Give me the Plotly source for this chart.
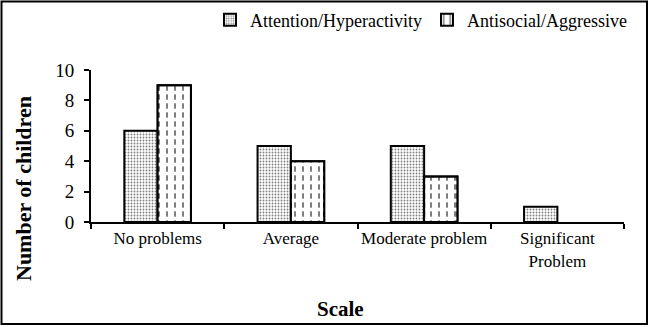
import plotly.graph_objects as go

# Category labels along the x axis and the counts for each scale
categories = ["No problems", "Average", "Moderate problem", "Significant<br>Problem"]
attention = [6, 5, 5, 1]
antisocial = [9, 4, 3, 0]
y_ticks = [0, 2, 4, 6, 8, 10]

FONT = "Liberation Serif"

# zero counts are left blank rather than drawn as a flat outline
def shown(values):
    return [v if v else None for v in values]

OUTLINE = dict(color="black", width=2)
BAR_W = 0.25

fig = go.Figure()
fig.add_trace(go.Bar(
    name="Attention/Hyperactivity",
    x=categories, y=shown(attention), offset=-BAR_W, width=BAR_W,
    marker=dict(color="white", line=OUTLINE,
                pattern=dict(shape=".", size=3, solidity=0.3,
                             fgcolor="black", bgcolor="white", fillmode="overlay")),
))
fig.add_trace(go.Bar(
    name="Antisocial/Aggressive",
    x=categories, y=shown(antisocial), offset=0, width=BAR_W,
    marker=dict(color="white", line=OUTLINE,
                pattern=dict(shape="|", size=8, solidity=0.25,
                             fgcolor="black", bgcolor="white", fillmode="overlay")),
))
# white horizontal stripes break the vertical lines into dashes
fig.add_trace(go.Bar(
    name="Antisocial/Aggressive", showlegend=False, hoverinfo="skip",
    x=categories, y=shown(antisocial), offset=0, width=BAR_W,
    marker=dict(color="rgba(0,0,0,0)", line=OUTLINE,
                pattern=dict(shape="-", size=9, solidity=0.4,
                             fgcolor="white", bgcolor="rgba(0,0,0,0)",
                             fgopacity=1, fillmode="overlay")),
))

L, R, T, B = 91, 26, 70, 105
W, H = 650, 327
pw, ph = W - L - R, H - T - B

def px_x(x):
    return (x - L) / pw

def px_y(y):
    return (H - B - y) / ph

fig.update_layout(
    width=W, height=H,
    margin=dict(l=L, r=R, t=T, b=B, autoexpand=False),
    paper_bgcolor="white", plot_bgcolor="white",
    barmode="overlay",
    font=dict(family=FONT, size=17, color="black"),
    showlegend=True,
    legend=dict(orientation="h", x=px_x(632), xanchor="right",
                y=px_y(20), yanchor="middle",
                font=dict(family=FONT, size=18, color="black"),
                itemwidth=30, bgcolor="rgba(0,0,0,0)", traceorder="normal"),
    xaxis=dict(type="category", showline=True, linecolor="black", linewidth=2,
               ticks="outside", tickson="boundaries", ticklen=5, tickwidth=2,
               tickcolor="black", showgrid=False, zeroline=False, tickangle=0,
               tickfont=dict(family=FONT, size=17, color="black")),
    yaxis=dict(range=[0, 10], tickvals=y_ticks, showline=True, linecolor="black",
               linewidth=2, ticks="outside", ticklen=5, tickwidth=2,
               tickcolor="black", showgrid=False, zeroline=False,
               ticklabelstandoff=6,
               tickfont=dict(family=FONT, size=19, color="black")),
    annotations=[
        dict(text="<b>Number of children</b>", textangle=-90, xref="paper", yref="paper",
             x=px_x(23), y=px_y(189), xanchor="center", yanchor="middle",
             showarrow=False, font=dict(family=FONT, size=22, color="black")),
        dict(text="<b>Scale</b>", xref="paper", yref="paper",
             x=px_x(340), y=px_y(309), xanchor="center", yanchor="middle",
             showarrow=False, font=dict(family=FONT, size=21, color="black")),
    ],
    shapes=[
        dict(type="rect", xref="paper", yref="paper",
             x0=px_x(1.5), x1=px_x(647), y0=px_y(1.5), y1=px_y(324),
             line=dict(color="black", width=2), fillcolor="rgba(0,0,0,0)"),
    ],
)

fig.write_html("out.html")
